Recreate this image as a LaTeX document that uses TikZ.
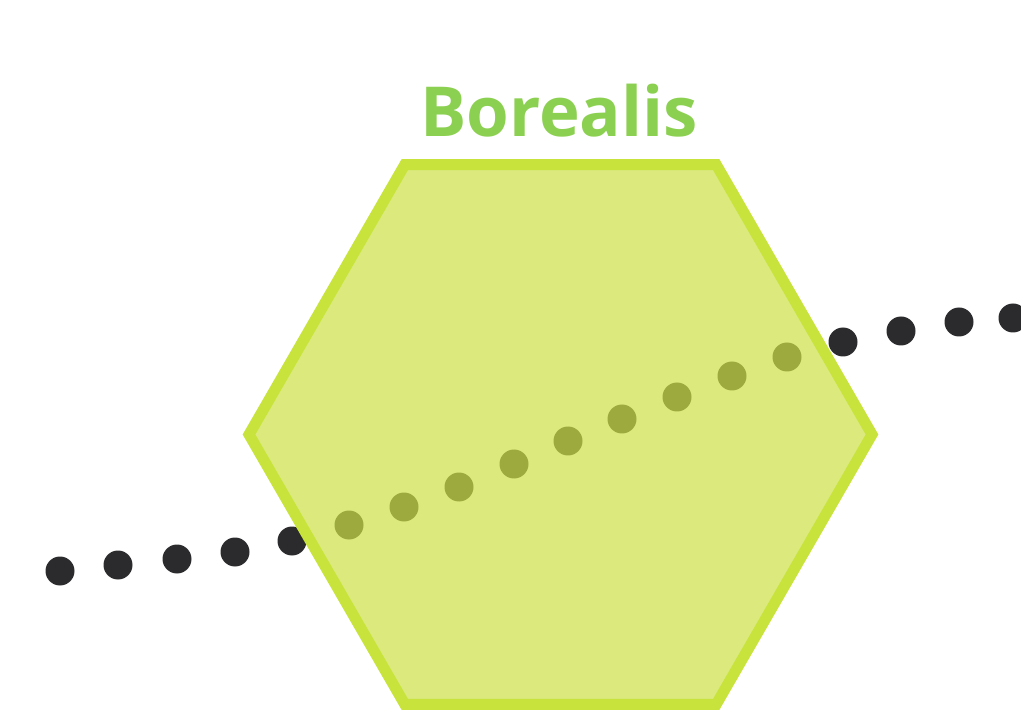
\documentclass[tikz,border=0pt]{standalone}
\usepackage{fontspec}
\setmainfont{Open Sans}
\definecolor{titlegreen}{RGB}{140,208,82}
\definecolor{hexfill}{RGB}{204,224,70}
\definecolor{hexborder}{RGB}{200,228,60}
\definecolor{dotgray}{RGB}{43,43,46}
\begin{document}
\begin{tikzpicture}[x=1pt,y=-1pt,
  dotstyle/.style={fill=dotgray,draw=none},
  hexstyle/.style={fill=hexfill,fill opacity=0.7,draw=hexborder,line width=11pt,line join=miter},
  titlestyle/.style={text=titlegreen,font=\fontsize{69}{80}\selectfont\bfseries,inner sep=0pt}]
\useasboundingbox (0,0) rectangle (1021,711);
% dots
\foreach \x/\y in {60/571,118/565,177/559,235/552,292/541,349/525,404/507,459/487,514/464,568/441,622/419,677/397,732/376,787/357,843/342,901/331,959/322,1013/318}
  \fill[dotstyle] (\x,\y) circle (14.5);
% hexagon
\coordinate (c) at (560.5,434.5);
\draw[hexstyle] (c) ++(-311.5,0) -- ++(155.75,-269.8) -- ++(311.5,0) -- ++(155.75,269.8) -- ++(-155.75,269.8) -- ++(-311.5,0) -- cycle;
% title
\node[titlestyle,anchor=base] (title) at (559,137) {Borealis};
\end{tikzpicture}
\end{document}
